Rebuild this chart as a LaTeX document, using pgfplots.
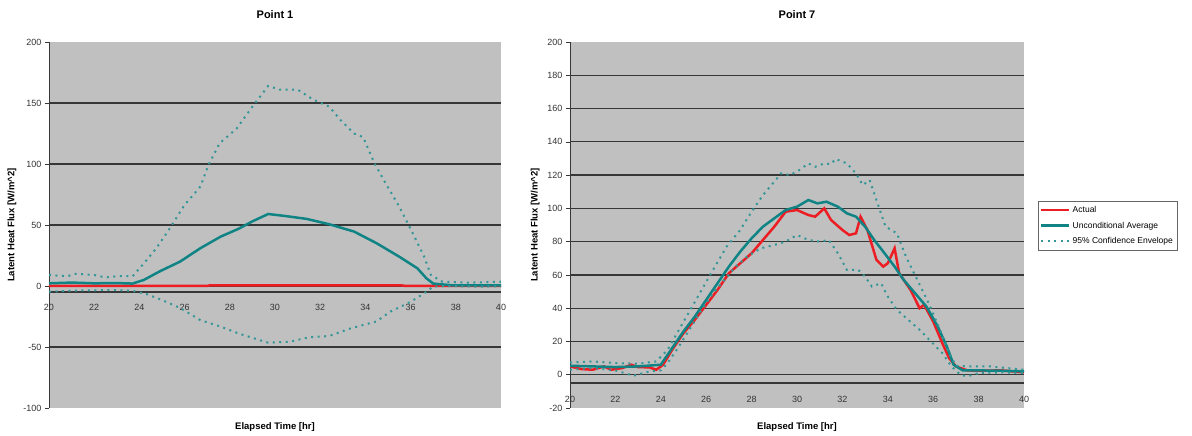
\documentclass[border=0pt]{standalone}
\usepackage{fontspec}
\setmainfont{Liberation Sans}
\usepackage{pgfplots}
\pgfplotsset{compat=1.18}
\definecolor{plotgray}{RGB}{192,192,192}
\definecolor{tealc}{RGB}{16,132,132}
\definecolor{redc}{RGB}{236,30,36}
\definecolor{gridc}{RGB}{55,55,55}
\pgfplotsset{
  excelstyle/.style={
    scale only axis,
    xmin=20, xmax=40,
    xtick={20,22,...,40},
    axis background/.style={fill=plotgray},
    axis y line*=left,
    axis x line*=bottom,
    x axis line style={draw=none},
    y axis line style={draw=gridc, line width=0.8pt},
    xtick style={draw=none},
    ytick style={draw=gridc, line width=0.6pt},
    tick align=outside,
    major tick length=4pt,
    /pgf/number format/assume math mode=true,
    tick label style={font=\fontsize{9}{10}\selectfont, text=black!80},
    xlabel={Elapsed Time [hr]},
    ylabel={Latent Heat Flux [W/m\textasciicircum 2]},
    title style={font=\bfseries\fontsize{11}{13}\selectfont, anchor=base},
    xlabel style={font=\bfseries\fontsize{9.5}{11}\selectfont, anchor=base, at={(axis description cs:0.5,-0.0574)}},
    ylabel style={font=\bfseries\fontsize{9.5}{11}\selectfont, anchor=center},
    extra y tick labels={},
    extra y tick style={ymajorgrids=true, major tick length=0pt,
      major grid style={draw=gridc, line width=1.2pt}},
    legend image code/.code={\draw[#1] (0pt,0pt) -- (28pt,0pt);},
  },
  actual/.style={draw=redc, line width=2.5pt},
  uncond/.style={draw=tealc, line width=2.5pt},
  envel/.style={draw=tealc!85!white, line width=2pt, dash pattern=on 2pt off 4.5pt},
}
\begin{document}
\begin{tikzpicture}
\useasboundingbox (0,0) rectangle (1192pt,436pt);
% ---------------- Point 1 ----------------
\begin{axis}[excelstyle,
  at={(49pt,28pt)}, anchor=south west,
  width=452pt, height=366pt,
  ymin=-100, ymax=200,
  ytick={-100,-50,...,200},
  extra y ticks={-50,-5,0,50,100,150},
  title={Point 1},
  title style={at={(axis description cs:0.5,1.047)}},
  ylabel style={at={(axis description cs:-0.0819,0.5)}},
  xticklabel style={anchor=center, yshift=105pt},
]
\addplot[actual] coordinates {
(20,0) (27,0) (27.1,0.5) (35.6,0.5) (35.8,0) (40,0)};
\addplot[uncond] coordinates {
(20,2.2) (21,2.8) (22,2.2) (23,2.4) (23.7,2) (24.2,5) (24.9,12) (25.8,20) (26.7,31)
(27.6,40.5) (28.4,47) (29.0,53) (29.7,59) (30.4,57.5) (31.4,55) (32.4,50.6)
(33.5,44.6) (34.5,35) (35.5,24) (36.3,14.5) (36.7,6.3) (37.0,2) (37.9,0.5) (40,0.5)};
\addplot[envel] coordinates {
(20,9) (20.8,8) (21.2,10) (22,9) (22.5,7) (23,8) (23.7,8) (24.2,18.6) (24.75,31)
(25.3,46) (26.0,66.5) (26.7,81.5) (27.05,99) (27.55,117) (28.3,129) (29.0,147)
(29.7,164) (30.2,161) (31.0,161) (31.7,152.7) (32.4,147) (32.9,136) (33.5,125)
(33.9,122) (34.4,100.7) (34.9,84) (35.5,65) (36.1,43) (36.6,24) (36.9,9)
(37.4,3.6) (38.5,2.7) (40,3.5)};
\addplot[envel, forget plot] coordinates {
(20,-4.7) (21,-3.8) (22,-3.5) (23,-3.3) (23.7,-4) (24.3,-6.5) (25.0,-11.5)
(25.8,-18) (26.7,-28) (27.55,-33) (28.4,-39) (29.7,-46.5) (30.65,-45.7) (31.5,-42)
(32.4,-41) (33.3,-35) (34.5,-29) (35.1,-21) (36.0,-13) (36.6,-6) (37.0,-0.5)
(37.7,0) (39,-0.5) (40,-0.3)};
\end{axis}
% ---------------- Point 7 ----------------
\begin{axis}[excelstyle,
  at={(570pt,28pt)}, anchor=south west,
  width=454pt, height=366pt,
  ymin=-20, ymax=200,
  ytick={-20,0,...,200},
  extra y ticks={-5,0,20,40,60,80,100,120,140,160,180},
  title={Point 7},
  title style={at={(axis description cs:0.5,1.047)}},
  ylabel style={at={(axis description cs:-0.077,0.5)}},
  xticklabel style={anchor=center, yshift=13pt},
  legend style={at={(axis description cs:1.0308,0.5656)}, anchor=north west,
    draw=black!60, fill=white, line width=0.5pt,
    font=\fontsize{8.5}{10}\selectfont, inner xsep=2pt, inner ysep=3pt,
    row sep=4pt, cells={anchor=west}},
  legend cell align=left,
]
\addplot[actual] coordinates {
(20,5) (20.5,3.4) (21,3) (21.5,5) (21.8,3) (22.3,4) (22.7,6) (23.0,4.6) (23.5,4.4)
(23.8,3) (24.1,6) (24.5,15) (25,25) (25.5,33) (26,42) (26.5,51) (27,61) (27.5,67)
(28,73) (28.5,81) (29,89) (29.5,98) (30,99) (30.5,96) (30.8,95) (31.2,100)
(31.5,93) (32,87) (32.3,84) (32.6,85) (32.8,95) (33.1,87) (33.5,69) (33.8,65)
(34.0,67) (34.3,76) (34.5,61) (35,51) (35.4,40) (35.6,42) (36,32) (36.4,19)
(36.7,10) (37.0,5) (37.5,2.6) (38,2.4) (39,2.6) (40,1.4)};
\addlegendentry{Actual}
\addplot[uncond] coordinates {
(20,5.4) (21,5) (22,4.6) (23,5) (24,6) (24.4,14) (25,26) (25.5,35) (26,45) (26.5,55)
(27,65) (27.5,74) (28,82) (28.5,89) (29,94) (29.5,99) (30,101) (30.5,105)
(30.9,103) (31.3,104) (31.8,101) (32.2,97) (32.6,95) (33,89) (33.4,81) (33.8,74)
(34.3,65) (34.7,57) (35.2,49) (35.7,41) (36.2,29) (36.6,17) (36.9,6) (37.3,2.6)
(38,2.6) (39,2.4) (40,2)};
\addlegendentry{Unconditional Average}
\addplot[envel] coordinates {
(20,7.4) (21,8) (22,7) (23,6.6) (23.8,8) (24.3,15) (24.8,27) (25.3,39) (25.8,51)
(26.3,63) (26.9,77) (27.5,87) (28.0,98) (28.5,108) (29,116) (29.3,121) (29.7,120)
(30.1,123) (30.5,127) (30.8,125) (31.2,127) (31.5,126.6) (31.7,129.7) (32.2,127)
(32.6,121) (32.9,114) (33.2,117) (33.5,105) (33.9,89) (34.4,85) (34.8,71)
(35.3,57) (35.8,43) (36.3,27) (36.7,13) (37.0,5.4) (37.5,5) (38.5,5) (40,3)};
\addlegendentry{95\% Confidence Envelope}
\addplot[envel, forget plot] coordinates {
(20,3) (21,4) (22,2.6) (22.8,-0.6) (23.5,2) (24,2.6) (24.3,7) (24.8,17) (25.3,28)
(25.8,39) (26.3,49) (26.8,57) (27.3,65) (27.8,71) (28.4,76) (29.0,78) (29.5,80)
(30.0,84) (30.5,81) (31.0,80) (31.4,81) (31.8,73) (32.2,63) (32.7,63) (33.0,59)
(33.3,53) (33.7,55) (34.0,47) (34.4,39) (34.9,33) (35.4,27) (35.9,20) (36.4,13)
(36.8,5) (37.2,0) (37.5,-1) (38.0,1) (39,1.4) (40,1)};
\end{axis}
\end{tikzpicture}
\end{document}
